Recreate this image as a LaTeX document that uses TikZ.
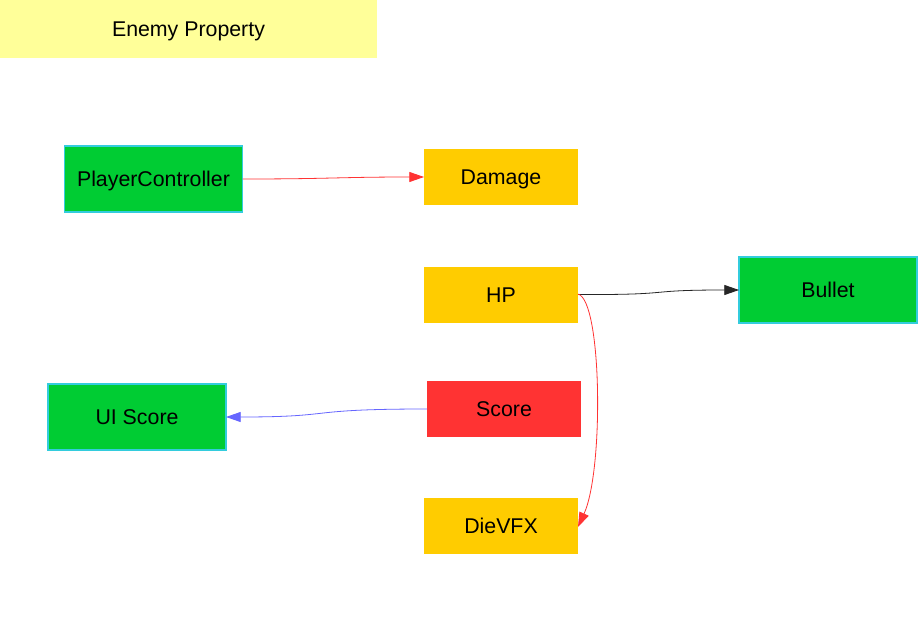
\documentclass[tikz,border=0pt]{standalone}
\usepackage{fontspec}
\setmainfont{Liberation Sans}
\usetikzlibrary{arrows.meta}
\definecolor{ttl}{HTML}{FFFF99}
\definecolor{grn}{HTML}{00CC33}
\definecolor{grnb}{HTML}{33CCDD}
\definecolor{ylw}{HTML}{FFCC00}
\definecolor{rd}{HTML}{FF3333}
\definecolor{blu}{HTML}{6666FF}
\begin{document}
\begin{tikzpicture}[x=0.75pt,y=-0.75pt,
  every node/.style={font=\fontsize{16pt}{19pt}\selectfont, inner sep=0pt, outer sep=0pt, text height=11.5pt, text depth=0pt},
  gbox/.style={fill=grn, draw=grnb, line width=0.8pt, minimum width=133.5pt, minimum height=49.5pt},
  ybox/.style={fill=ylw, minimum width=115.5pt, minimum height=42pt},
  rbox/.style={fill=rd, minimum width=115.5pt, minimum height=42pt},
  arr/.style={-{Triangle[length=11pt,width=7.5pt]}, line width=0.6pt}]
\useasboundingbox (0,0) rectangle (922,628);
\fill[white] (0,0) rectangle (922,628);
\node[fill=ttl, minimum width=282.75pt, minimum height=43.5pt] (title) at (188.5,29) {Enemy Property};
\node[gbox] (pc) at (153.5,179) {PlayerController};
\node[ybox] (dmg) at (501,177) {Damage};
\node[ybox] (hp) at (501,294.5) {HP};
\node[gbox] (bul) at (828,290) {Bullet};
\node[rbox] (sc) at (504,409) {Score};
\node[gbox] (ui) at (137,417) {UI Score};
\node[ybox] (die) at (501,526) {DieVFX};
\draw[arr, draw=rd] (pc.east) .. controls (330,179) and (340,177) .. (dmg.west);
\draw[arr, draw=black!85] (hp.east) .. controls (680,295) and (640,290) .. (bul.west);
\draw[arr, draw=rd] ([yshift=0.3pt]hp.east) .. controls (602,300) and (604,470) .. ([yshift=-0.75pt]die.east);
\draw[arr, draw=blu] (sc.west) .. controls (300,409) and (340,417) .. (ui.east);
\end{tikzpicture}
\end{document}
